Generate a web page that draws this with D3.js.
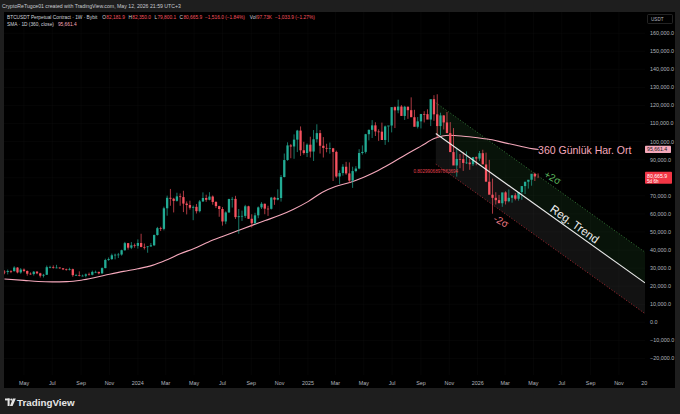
<!DOCTYPE html>
<html>
<head>
<meta charset="utf-8">
<script src="https://cdn.jsdelivr.net/npm/d3@7"></script>
<style>
  html, body { margin: 0; padding: 0; background: #1e1e1e; }
  svg { display: block; font-family: "Liberation Sans", Arial, sans-serif; }
</style>
</head>
<body>
<div id="chart"></div>
<script>
// BTCUSDT weekly candles (Bybit perp), prices in thousand USDT
const firstWeek = "2023-03-20";
const lastWeek = "2026-05-11";

const open = [
  28.0, 27.9, 28.4, 28.3, 30.3, 27.6, 29.2, 28.4, 26.9, 26.7, 28.0, 27.1, 25.8, 26.3, 30.5, 30.6, 30.2, 30.3, 29.9, 29.3,
  29.0, 29.4, 26.1, 26.1, 25.8, 25.8, 26.5, 26.3, 27.9, 27.9, 27.1, 30.0, 34.5, 35.0, 37.1, 37.4, 37.5, 39.9, 43.8, 41.3,
  42.6, 42.3, 43.9, 41.7, 41.6, 42.0, 42.6, 48.3, 52.1, 51.7, 63.1, 68.9, 68.4, 67.2, 69.7, 69.3, 65.7, 64.9, 63.4, 63.9,
  61.5, 66.9, 68.8, 67.8, 69.6, 66.6, 64.3, 62.7, 55.8, 60.8, 68.2, 68.3, 58.2, 58.7, 58.9, 64.2, 57.3, 54.8, 59.2, 63.6,
  65.6, 62.9, 62.8, 69.0, 67.9, 68.8, 80.4, 89.8, 97.9, 97.3, 101.1, 106.1, 95.2, 93.7, 98.3, 94.5, 101.3, 104.7, 97.7, 96.5,
  96.1, 96.3, 94.3, 80.7, 82.6, 86.1, 82.4, 78.4, 83.7, 85.1, 93.7, 94.3, 104.1, 106.5, 109.0, 105.6, 105.5, 100.9, 108.4, 108.9,
  119.1, 117.3, 119.4, 114.2, 119.3, 117.4, 113.5, 108.2, 111.2, 115.3, 115.2, 112.2, 123.5, 115.1, 108.6, 114.5, 110.6, 104.7, 94.2, 86.8,
  90.4, 90.3, 88.2, 88.4, 87.5, 91.4, 90.6, 93.6, 87.4, 77.8, 70.6, 68.9, 67.6, 65.9, 71.9, 67.0, 68.9, 70.3, 68.4, 72.1,
  75.4, 77.8, 78.9, 82.2, 82.2
];
const high = [
  28.8, 29.2, 28.8, 31.0, 30.5, 30.0, 29.8, 28.7, 27.6, 28.4, 28.4, 27.4, 26.8, 31.4, 31.3, 31.5, 31.8, 30.4, 29.9, 29.7,
  30.2, 29.7, 26.8, 28.2, 26.4, 27.0, 27.5, 28.6, 28.6, 28.0, 30.4, 35.2, 35.9, 38.0, 38.0, 38.4, 40.2, 44.5, 43.9, 44.4,
  43.6, 45.9, 49.0, 43.6, 42.2, 43.9, 48.6, 52.8, 52.9, 64.0, 70.1, 73.8, 68.9, 71.7, 71.3, 72.8, 66.9, 67.3, 64.7, 65.5,
  67.7, 71.9, 70.6, 72.0, 70.2, 67.0, 64.5, 63.8, 61.4, 68.4, 69.4, 70.0, 62.7, 61.8, 65.0, 64.5, 59.8, 60.6, 64.1, 66.5,
  65.7, 64.5, 69.4, 69.5, 73.6, 81.5, 93.4, 99.6, 98.7, 104.0, 106.5, 108.4, 99.9, 99.0, 102.7, 106.4, 109.6, 106.4, 102.5, 98.8,
  99.5, 96.5, 95.0, 84.1, 87.5, 88.8, 88.5, 86.1, 86.4, 95.8, 97.9, 104.3, 106.7, 111.9, 110.7, 106.8, 110.5, 108.9, 108.5, 110.5,
  119.5, 123.2, 120.2, 119.8, 119.4, 124.5, 117.6, 113.6, 113.4, 116.8, 117.9, 115.4, 125.7, 126.2, 116.0, 114.6, 116.4, 110.8, 107.5, 96.6,
  93.1, 94.2, 94.6, 90.4, 90.3, 91.8, 94.8, 95.5, 93.9, 89.9, 79.5, 72.0, 70.5, 69.3, 72.5, 73.5, 70.3, 71.5, 71.2, 72.8,
  76.5, 78.5, 79.9, 82.8, 82.4
];
const low = [
  26.6, 26.5, 27.2, 28.1, 27.1, 26.9, 27.7, 25.8, 26.3, 25.9, 26.6, 24.8, 24.8, 26.2, 29.9, 29.7, 29.9, 29.6, 28.9, 28.6,
  28.7, 25.2, 25.8, 25.4, 25.4, 24.9, 26.0, 26.0, 27.2, 26.5, 26.8, 29.9, 34.0, 34.5, 34.8, 35.6, 36.9, 39.6, 40.2, 40.5,
  41.3, 40.8, 41.5, 40.3, 38.5, 41.8, 42.3, 48.0, 50.5, 50.9, 59.0, 64.5, 60.8, 66.8, 64.5, 61.0, 59.7, 62.4, 56.5, 60.2,
  60.8, 66.6, 66.7, 67.5, 65.1, 63.2, 58.4, 53.5, 54.3, 60.6, 63.5, 57.2, 49.0, 56.1, 57.8, 57.2, 52.5, 54.6, 57.6, 62.7,
  59.8, 58.9, 62.4, 65.0, 67.5, 66.8, 80.2, 89.4, 90.8, 90.5, 94.2, 92.1, 92.8, 91.5, 91.2, 89.3, 99.5, 93.4, 91.2, 94.1,
  93.3, 78.2, 80.0, 76.6, 81.2, 81.6, 77.1, 74.4, 83.0, 84.7, 92.8, 93.4, 100.7, 102.0, 103.1, 100.4, 102.7, 98.2, 99.7, 105.1,
  107.5, 115.7, 114.7, 112.0, 112.6, 116.8, 110.6, 107.3, 107.3, 110.6, 114.4, 108.6, 111.5, 102.0, 103.5, 106.7, 106.3, 98.9, 93.0, 80.6,
  85.3, 83.8, 87.6, 84.4, 86.5, 86.9, 89.3, 90.2, 87.3, 75.0, 60.1, 65.2, 66.0, 63.9, 65.2, 66.4, 66.2, 67.5, 67.3, 67.8,
  71.0, 74.0, 75.6, 78.2, 79.8
];
const close = [
  27.9, 28.4, 28.3, 30.3, 27.6, 29.2, 28.4, 26.9, 26.7, 28.0, 27.1, 25.8, 26.3, 30.5, 30.6, 30.2, 30.3, 29.9, 29.3, 29.0,
  29.4, 26.1, 26.1, 25.8, 25.8, 26.5, 26.3, 27.9, 27.9, 27.1, 30.0, 34.5, 35.0, 37.1, 37.4, 37.5, 39.9, 43.8, 41.3, 42.6,
  42.3, 43.9, 41.7, 41.6, 42.0, 42.6, 48.3, 52.1, 51.7, 63.1, 68.9, 68.4, 67.2, 69.7, 69.3, 65.7, 64.9, 63.4, 63.9, 61.5,
  66.9, 68.8, 67.8, 69.6, 66.6, 64.3, 62.7, 55.8, 60.8, 68.2, 68.3, 58.2, 58.7, 58.9, 64.2, 57.3, 54.8, 59.2, 63.6, 65.6,
  62.9, 62.8, 69.0, 67.9, 68.8, 80.4, 89.8, 97.9, 97.3, 101.1, 106.1, 95.2, 93.7, 98.3, 94.5, 101.3, 104.7, 97.7, 96.5, 96.1,
  96.3, 94.3, 80.7, 82.6, 86.1, 82.4, 78.4, 83.7, 85.1, 93.7, 94.3, 104.1, 106.5, 109.0, 105.6, 105.5, 100.9, 108.4, 108.9, 119.1,
  117.3, 119.4, 114.2, 119.3, 117.4, 113.5, 108.2, 111.2, 115.3, 115.2, 112.2, 123.5, 115.1, 108.6, 114.5, 110.6, 104.7, 94.2, 86.8, 90.4,
  90.3, 88.2, 88.4, 87.5, 91.4, 90.6, 93.6, 87.4, 77.8, 70.6, 68.9, 67.6, 65.9, 71.9, 67.0, 68.9, 70.3, 68.4, 72.1, 75.4,
  77.8, 78.9, 82.2, 80.7
];

// 360 day SMA, thousand USDT
const smaDates = ["2023-03-20","2023-05-01","2023-06-01","2023-07-01","2023-08-01","2023-09-01","2023-10-01","2023-11-01",
  "2023-12-01","2024-01-01","2024-02-01","2024-03-01","2024-04-01","2024-05-01","2024-06-01","2024-07-01","2024-08-01",
  "2024-09-01","2024-10-01","2024-11-01","2024-12-01","2025-01-01","2025-02-01","2025-03-01","2025-04-01","2025-05-01",
  "2025-06-01","2025-07-01","2025-08-01","2025-09-01","2025-10-01","2025-11-01","2025-12-01","2026-01-01","2026-02-01",
  "2026-03-01","2026-04-01","2026-05-01","2026-05-12"];
const smaValues = [24.0, 23.2, 22.6, 22.4, 22.5, 23.3, 24.8, 26.6, 28.2, 29.6, 31.5, 34.3, 37.9, 40.9, 44.5, 47.5, 50.5,
  53.5, 56.3, 59.2, 62.6, 66.8, 72.0, 75.2, 77.4, 80.3, 84.0, 88.3, 93.0, 97.5, 101.8, 103.5, 103.0, 102.1, 101.0,
  99.3, 97.6, 96.0, 95.66];

// regression trend channel
const regDates = ["2025-10-03", "2026-12-27"];
const regMid = [104.5, 21.8];
const regDev = 17.0;
const pearsonR = "0.8029906897863694";

// axes
const priceTicks = [-20, -10, 0, 10, 20, 30, 40, 50, 60, 70, 80, 90, 100, 110, 120, 130, 140, 150, 160];
const timeTicks = ["2023-05-01","2023-07-01","2023-09-01","2023-11-01","2024-01-01","2024-03-01","2024-05-01",
  "2024-07-01","2024-09-01","2024-11-01","2025-01-01","2025-03-01","2025-05-01","2025-07-01","2025-09-01","2025-11-01",
  "2026-01-01","2026-03-01","2026-05-01","2026-07-01","2026-09-01","2026-11-01","2027-01-01"];
const timeLabels = ["May","Jul","Sep","Nov","2024","Mar","May","Jul","Sep","Nov","2025","Mar","May","Jul","Sep","Nov",
  "2026","Mar","May","Jul","Sep","Nov","20"];

const lastPrice = "80,665.9", countdown = "5d 6h", smaLast = "95,661.4";

// colours
const upCol = "#22ab94", downCol = "#f7525f", smaCol = "#f5a8bb", axisTxt = "#b2b5be";

const W = 680, H = 414;
const pane = {left: 4, right: 675, top: 12, bottom: 388};
const plotRight = 645, plotBottom = 375;

const svg = d3.select("#chart").append("svg").attr("width", W).attr("height", H);

svg.append("rect").attr("width", W).attr("height", H).attr("fill", "#1e1e1e");
svg.append("rect")
    .attr("x", pane.left).attr("y", pane.top)
    .attr("width", pane.right - pane.left).attr("height", pane.bottom - pane.top)
    .attr("fill", "#000");

const parse = d3.utcParse("%Y-%m-%d");
const x = d3.scaleUtc()
    .domain([parse("2023-03-19"), parse("2026-12-27")])
    .range([pane.left, plotRight]);
const y = d3.scaleLinear().domain([0, 160]).range([322.3, 33.2]);

svg.append("clipPath").attr("id", "plotclip")
  .append("rect").attr("x", pane.left).attr("y", pane.top)
    .attr("width", plotRight - pane.left).attr("height", plotBottom - pane.top);

const plot = svg.append("g").attr("clip-path", "url(#plotclip)");

// grid
plot.append("g").selectAll("line").data(timeTicks).join("line")
    .attr("x1", d => x(parse(d))).attr("x2", d => x(parse(d)))
    .attr("y1", pane.top).attr("y2", plotBottom)
    .attr("stroke", "#ffffff").attr("stroke-opacity", 0.045).attr("stroke-width", 0.6);
plot.append("g").selectAll("line").data(priceTicks).join("line")
    .attr("x1", pane.left).attr("x2", plotRight)
    .attr("y1", d => y(d)).attr("y2", d => y(d))
    .attr("stroke", "#ffffff").attr("stroke-opacity", 0.045).attr("stroke-width", 0.6);

// regression channel
const x0 = x(parse(regDates[0])), x1 = x(parse(regDates[1]));
plot.append("path")
    .attr("d", d3.line()([[x0, y(regMid[0] + regDev)], [x1, y(regMid[1] + regDev)], [x1, y(regMid[1])], [x0, y(regMid[0])]]))
    .attr("fill", "rgba(76,175,80,0.11)");
plot.append("path")
    .attr("d", d3.line()([[x0, y(regMid[0])], [x1, y(regMid[1])], [x1, y(regMid[1] - regDev)], [x0, y(regMid[0] - regDev)]]))
    .attr("fill", "rgba(255,255,255,0.07)");
plot.append("line")
    .attr("x1", x0).attr("y1", y(regMid[0] + regDev)).attr("x2", x1).attr("y2", y(regMid[1] + regDev))
    .attr("stroke", "#4caf50").attr("stroke-opacity", 0.75).attr("stroke-width", 0.9).attr("stroke-dasharray", "1,2");
plot.append("line")
    .attr("x1", x0).attr("y1", y(regMid[0] - regDev)).attr("x2", x1).attr("y2", y(regMid[1] - regDev))
    .attr("stroke", "#f23645").attr("stroke-opacity", 0.75).attr("stroke-width", 0.9).attr("stroke-dasharray", "1,2");

// SMA
const sma = smaDates.map((d, i) => [x(parse(d)), y(smaValues[i])]);
plot.append("path")
    .attr("d", d3.line().curve(d3.curveMonotoneX)(sma))
    .attr("fill", "none").attr("stroke", smaCol).attr("stroke-width", 1.1);

// candles
const weeks = d3.utcMonday.range(parse(firstWeek), d3.utcDay.offset(parse(lastWeek), 1));
const candles = weeks.map((d, i) => ({t: d, o: open[i], h: high[i], l: low[i], c: close[i]}));
const bodyW = 2.3;
const cg = plot.append("g");
cg.selectAll("line").data(candles).join("line")
    .attr("x1", d => x(d.t)).attr("x2", d => x(d.t))
    .attr("y1", d => y(d.h)).attr("y2", d => y(d.l))
    .attr("stroke", d => d.c >= d.o ? upCol : downCol).attr("stroke-width", 0.7);
cg.selectAll("rect").data(candles).join("rect")
    .attr("x", d => x(d.t) - bodyW / 2)
    .attr("y", d => y(Math.max(d.o, d.c)))
    .attr("width", bodyW)
    .attr("height", d => Math.max(0.7, Math.abs(y(d.o) - y(d.c))))
    .attr("fill", d => d.c >= d.o ? upCol : downCol);

// regression centre line (over candles)
plot.append("line")
    .attr("x1", x0).attr("y1", y(regMid[0])).attr("x2", x1).attr("y2", y(regMid[1]))
    .attr("stroke", "#e8e8e8").attr("stroke-width", 1.1);

// annotations along the channel
const ang = Math.atan2(y(regMid[1]) - y(regMid[0]), x1 - x0) * 180 / Math.PI;
function onLine(date, shift) {
  const px = x(parse(date));
  const f = (px - x0) / (x1 - x0);
  const v = regMid[0] + (regMid[1] - regMid[0]) * f + shift;
  return [px, y(v)];
}
function tiltedLabel(pt, rot, dy, txt, col, size) {
  plot.append("text")
      .attr("transform", `translate(${pt[0]},${pt[1]}) rotate(${rot})`)
      .attr("y", dy).attr("dominant-baseline", "central").attr("text-anchor", "middle")
      .attr("fill", col).attr("font-size", size).text(txt);
}
tiltedLabel(onLine("2026-07-20", 0), ang, -7, "Reg. Trend", "#f0f0f0", 11.5);
tiltedLabel(onLine("2026-06-04", regDev), 28, -7, "+2σ", "#5cb85f", 10);
tiltedLabel(onLine("2026-03-01", -regDev), 28, 8.5, "-2σ", "#ef7b86", 10);

plot.append("text")
    .attr("x", x0).attr("y", y(regMid[0] - regDev) + 8.4)
    .attr("text-anchor", "middle").attr("fill", "#e0424f").attr("font-size", 4.6)
    .text(pearsonR);

plot.append("text")
    .attr("x", x(parse(smaDates[smaDates.length - 1])) - 0.5)
    .attr("y", y(smaValues[smaValues.length - 1]) + 4.3)
    .attr("fill", smaCol).attr("font-size", 10.5).text("360 Günlük Har. Ort");

// price axis (the tick hidden behind the last-price tag is not drawn)
const yLast = y(close[close.length - 1]);
const ySma = y(smaValues[smaValues.length - 1]);
const visibleTicks = priceTicks.filter(d => Math.abs(y(d) - yLast) > 7 && Math.abs(y(d) - ySma) > 5);
svg.append("g").attr("font-size", 5.4).attr("fill", axisTxt)
  .selectAll("text").data(visibleTicks).join("text")
    .attr("x", 650).attr("y", d => y(d) + 1.9)
    .text(d => d3.format(",.1f")(d * 1000));

svg.append("rect").attr("x", 647.5).attr("y", 14.5).attr("width", 25).attr("height", 9).attr("rx", 1)
    .attr("fill", "#000").attr("stroke", "#3a3a3a").attr("stroke-width", 0.6);
svg.append("text").attr("x", 651).attr("y", 20.7).attr("font-size", 4.6).attr("fill", axisTxt).text("USDT");

svg.append("rect").attr("x", 645).attr("y", ySma - 3.6).attr("width", 26).attr("height", 7.2).attr("rx", 0.8).attr("fill", smaCol);
svg.append("text").attr("x", 647).attr("y", ySma + 1.9).attr("font-size", 5.2).attr("fill", "#1a1a1a").text(smaLast);

svg.append("rect").attr("x", 645).attr("y", yLast - 4.8).attr("width", 27).attr("height", 12).attr("rx", 0.8).attr("fill", "#f23645");
svg.append("text").attr("x", 647).attr("y", yLast + 1.3).attr("font-size", 5.2).attr("fill", "#fff").text(lastPrice);
svg.append("text").attr("x", 647).attr("y", yLast + 6.3).attr("font-size", 4.6).attr("fill", "#fff").text(countdown);

// time axis
svg.append("g").attr("font-size", 5.4).attr("fill", axisTxt)
  .selectAll("text").data(timeTicks).join("text")
    .attr("x", d => x(parse(d)))
    .attr("y", 385)
    .attr("text-anchor", (d, i) => i === timeTicks.length - 1 ? "end" : "middle")
    .text((d, i) => timeLabels[i]);

// header
svg.append("text").attr("x", 2).attr("y", 7.8).attr("font-size", 5.2).attr("fill", "#c8cad0")
    .text("CryptoReTugce01 created with TradingView.com, May 12, 2026 21:59 UTC+3");

const gray = "#d1d4dc", red = "#f7525f";
// [text, colour, gap after]
const h1 = [
  ["BTCUSDT Perpetual Contract · 1W · Bybit", gray, 5],
  ["O", gray, 0.3], ["82,181.9", red, 3.5],
  ["H", gray, 0.3], ["82,350.0", red, 3.5],
  ["L", gray, 0.3], ["79,800.1", red, 3.5],
  ["C", gray, 0.3], ["80,665.9", red, 3],
  ["−1,516.0 (−1.84%)", red, 5],
  ["Vol", gray, 0.3], ["97.73K", red, 3],
  ["−1,033.9 (−1.27%)", red, 0]
];
const hdr = svg.append("g").attr("font-size", 4.8);
let cx = 7;
h1.forEach(d => {
  const t = hdr.append("text").attr("x", cx).attr("y", 19.2).attr("fill", d[1]).text(d[0]);
  cx += t.node().getComputedTextLength() + d[2];
});
const s1 = hdr.append("text").attr("x", 7).attr("y", 26.2).attr("fill", gray).text("SMA · 1D (360, close)");
hdr.append("text").attr("x", 7 + s1.node().getComputedTextLength() + 4).attr("y", 26.2).attr("fill", smaCol).text(smaLast);

// footer logo
const foot = svg.append("g").attr("fill", "#e6e6e6");
foot.append("rect").attr("x", 5).attr("y", 398.5).attr("width", 4.6).attr("height", 1.9);
foot.append("rect").attr("x", 7.6).attr("y", 398.5).attr("width", 2).attr("height", 7.5);
foot.append("circle").attr("cx", 11.3).attr("cy", 399.6).attr("r", 1.1);
foot.append("path").attr("d", "M12.9,398.5 L15.8,398.5 L12.6,406 L9.9,406 Z");
foot.append("text").attr("x", 17).attr("y", 406).attr("font-size", 9.8).attr("font-weight", "bold")
    .attr("fill", "#e6e6e6").text("TradingView");
</script>
</body>
</html>
